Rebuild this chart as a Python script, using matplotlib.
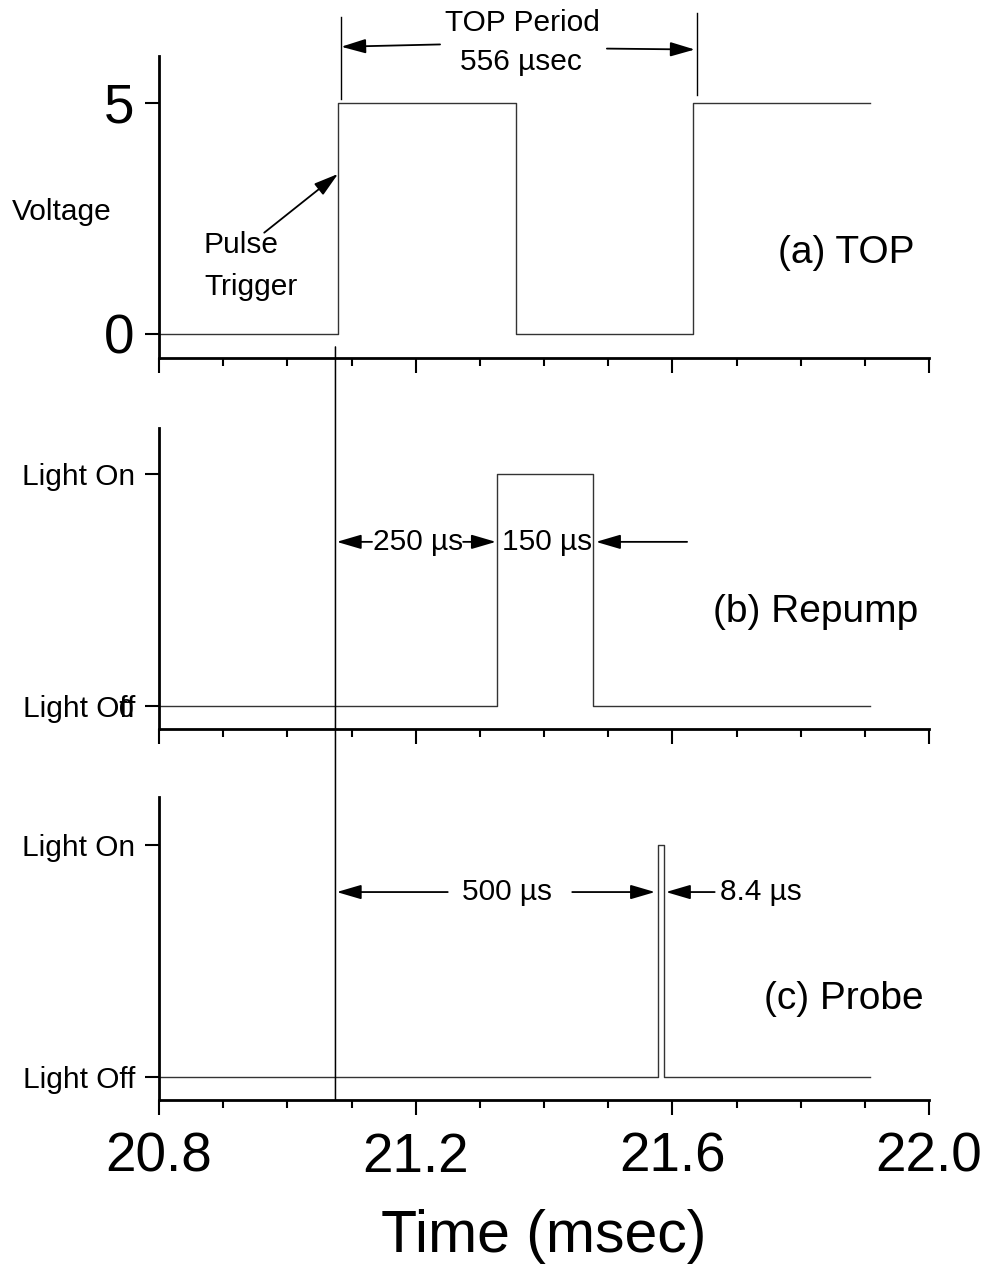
import matplotlib
matplotlib.use("Agg")
import matplotlib.pyplot as plt
from matplotlib.patches import ConnectionPatch
from matplotlib.ticker import MultipleLocator

plt.rcParams['font.family'] = ['Liberation Sans', 'DejaVu Sans']

# ---- data ----
top_t = [20.80, 21.079, 21.079, 21.356, 21.356, 21.632, 21.632, 21.908]
top_v = [0, 0, 5, 5, 0, 0, 5, 5]
repump_t = [20.80, 21.327, 21.327, 21.476, 21.476, 21.908]
repump_v = [0, 0, 1, 1, 0, 0]
probe_t = [20.80, 21.578, 21.578, 21.5875, 21.5875, 21.908]
probe_v = [0, 0, 1, 1, 0, 0]
trigger_t = 21.075

x_ticks = [20.8, 21.2, 21.6, 22.0]
x_tick_labels = ["20.8", "21.2", "21.6", "22.0"]
top_yticks = [0, 5]
top_yticklabels = ["0", "5"]
light_yticks = [0, 1]
light_yticklabels = ["Light Off", "Light On"]

W, H = 987, 1278
fig = plt.figure(figsize=(W / 100, H / 100), dpi=100)

def fr(px_left, px_top, px_right, px_bottom):
    return [px_left / W, 1 - px_bottom / H, (px_right - px_left) / W, (px_bottom - px_top) / H]

ax_a = fig.add_axes(fr(159, 56, 929, 358))
ax_b = fig.add_axes(fr(159, 428, 929, 729))
ax_c = fig.add_axes(fr(159, 797, 929, 1100))

sig_kw = dict(color='#333333', lw=1.0)
ax_a.plot(top_t, top_v, **sig_kw)
ax_b.plot(repump_t, repump_v, **sig_kw)
ax_c.plot(probe_t, probe_v, **sig_kw)

ax_a.set_ylim(-0.52, 6.01)
ax_b.set_ylim(-0.1, 1.198)
ax_c.set_ylim(-0.1, 1.207)

for ax in (ax_a, ax_b, ax_c):
    ax.set_xlim(20.8, 22.0)
    for s in ('top', 'right'):
        ax.spines[s].set_visible(False)
    for s in ('left', 'bottom'):
        ax.spines[s].set_linewidth(2.0)
    ax.set_xticks(x_ticks)
    ax.xaxis.set_minor_locator(MultipleLocator(0.1))
    ax.tick_params(axis='x', which='major', direction='out', length=11, width=1.5)
    ax.tick_params(axis='x', which='minor', direction='out', length=6, width=1.5)
    ax.tick_params(axis='y', which='major', direction='out', length=10, width=1.5)
    ax.tick_params(axis='y', which='minor', left=False)
    ax.patch.set_visible(False)

ax_a.set_xticklabels([])
ax_b.set_xticklabels([])
ax_c.set_xticklabels(x_tick_labels, fontsize=39.5)
ax_c.tick_params(axis='x', which='major', pad=12)

ax_a.set_yticks(top_yticks)
ax_a.set_yticklabels(top_yticklabels, fontsize=39.5)
ax_a.tick_params(axis='y', pad=8)
for ax in (ax_b, ax_c):
    ax.set_yticks(light_yticks)
    ax.set_yticklabels(light_yticklabels, fontsize=21.5)
    ax.tick_params(axis='y', pad=7)

ax_c.set_xlabel("Time (msec)", fontsize=42.5, labelpad=18)

# stray "0" overlapping Light Off in panel b (present in the original figure)
ax_b.text(-0.033, -0.02, "0", transform=ax_b.get_yaxis_transform(), ha='right', va='center',
          fontsize=19, clip_on=False)

# ---- panel (a) annotations ----
txt = dict(fontsize=21.5, clip_on=False)
ax_a.text(-0.191, 2.64, "Voltage", transform=ax_a.get_yaxis_transform(), ha='left', va='center', **txt)
ax_a.text(20.870, 1.93, "Pulse", ha='left', va='center', **txt)
ax_a.text(20.870, 1.02, "Trigger", ha='left', va='center', **txt)
ax_a.text(21.978, 1.75, "(a) TOP", ha='right', va='center', fontsize=28)
ax_a.text(21.366, 6.73, "TOP Period", ha='center', va='center', **txt)
ax_a.text(21.364, 5.87, "556 \u00b5sec", ha='center', va='center', **txt)

arr = dict(arrowstyle='-|>,head_length=0.75,head_width=0.22', mutation_scale=20,
           color='black', lw=1.3, shrinkA=0, shrinkB=0)

def arrow(ax, x0, y0, x1, y1):
    ax.annotate("", xy=(x1, y1), xytext=(x0, y0), arrowprops=arr, annotation_clip=False)

arrow(ax_a, 21.238, 6.26, 21.084, 6.21)
arrow(ax_a, 21.498, 6.17, 21.635, 6.15)
arrow(ax_a, 20.964, 2.19, 21.079, 3.46)
ax_a.plot([21.084, 21.084], [5.09, 6.86], color='black', lw=1.0, clip_on=False)
ax_a.plot([21.638, 21.638], [5.17, 6.95], color='black', lw=1.0, clip_on=False)

# ---- panel (b) annotations ----
ax_b.text(21.204, 0.707, "250 \u00b5s", ha='center', va='center', **txt)
ax_b.text(21.404, 0.707, "150 \u00b5s", ha='center', va='center', **txt)
arrow(ax_b, 21.132, 0.707, 21.077, 0.707)
arrow(ax_b, 21.274, 0.707, 21.325, 0.707)
arrow(ax_b, 21.623, 0.707, 21.481, 0.707)
ax_b.text(21.983, 0.405, "(b) Repump", ha='right', va='center', fontsize=28)

# ---- panel (c) annotations ----
ax_c.text(21.342, 0.797, "500 \u00b5s", ha='center', va='center', **txt)
ax_c.text(21.674, 0.797, "8.4 \u00b5s", ha='left', va='center', **txt)
arrow(ax_c, 21.250, 0.797, 21.077, 0.797)
arrow(ax_c, 21.444, 0.797, 21.573, 0.797)
arrow(ax_c, 21.666, 0.797, 21.590, 0.797)
ax_c.text(21.992, 0.336, "(c) Probe", ha='right', va='center', fontsize=28)

# ---- trigger line across panels ----
con = ConnectionPatch(xyA=(trigger_t, -0.28), coordsA=ax_a.transData,
                      xyB=(trigger_t, 0.0), coordsB=ax_c.get_xaxis_transform(),
                      color='black', lw=1.1)
fig.add_artist(con)

fig.savefig("out.png", dpi=100)
